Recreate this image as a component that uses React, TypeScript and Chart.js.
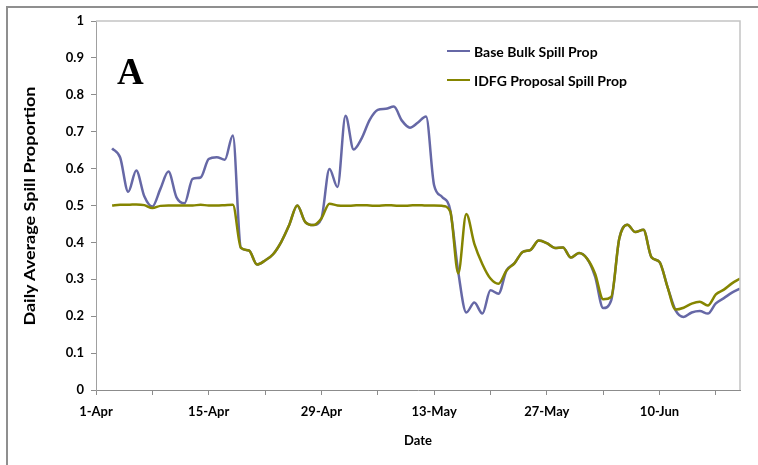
import React, { useEffect, useRef } from "react";
import { Chart, registerables } from "chart.js";

Chart.register(...registerables);

// Days counted from 1-Apr (day 0); data runs from day 2 (3-Apr) to day 80 (20-Jun)
const firstDay = 2;
const axisMaxDay = 80;

const tickDays = [0, 7, 14, 21, 28, 35, 42, 49, 56, 63, 70, 77];
const labelDays = [0, 14, 28, 42, 56, 70];
const tickLabels = ["1-Apr", "15-Apr", "29-Apr", "13-May", "27-May", "10-Jun"];

const seriesNames = ["Base Bulk Spill Prop", "IDFG Proposal Spill Prop"];
const xTitle = "Date";
const yTitle = "Daily Average Spill Proportion";

const baseBulk = [
  0.655, 0.63, 0.537, 0.595, 0.525, 0.497, 0.545, 0.592, 0.522, 0.506,
  0.572, 0.576, 0.626, 0.631, 0.624, 0.69, 0.385, 0.378, 0.34, 0.351,
  0.368, 0.401, 0.447, 0.5, 0.455, 0.447, 0.465, 0.599, 0.55, 0.743,
  0.652, 0.682, 0.732, 0.759, 0.762, 0.768, 0.73, 0.711, 0.725, 0.741,
  0.555, 0.523, 0.488, 0.32, 0.21, 0.237, 0.207, 0.27, 0.261, 0.324,
  0.344, 0.374, 0.38, 0.405, 0.398, 0.385, 0.386, 0.359, 0.371, 0.356,
  0.307, 0.222, 0.243, 0.41, 0.448, 0.428, 0.434, 0.36, 0.347, 0.279,
  0.216, 0.198, 0.21, 0.214, 0.207, 0.235, 0.249, 0.264, 0.275,
];

const idfgProposal = [
  0.5, 0.502, 0.502, 0.503, 0.501, 0.493, 0.499, 0.5, 0.5, 0.5,
  0.5, 0.502, 0.5, 0.5, 0.501, 0.502, 0.385, 0.378, 0.34, 0.351,
  0.368, 0.401, 0.447, 0.5, 0.455, 0.447, 0.465, 0.505, 0.5, 0.499,
  0.5, 0.501, 0.5, 0.499, 0.501, 0.5, 0.499, 0.5, 0.501, 0.5,
  0.5, 0.499, 0.484, 0.316, 0.477, 0.396, 0.341, 0.302, 0.288, 0.324,
  0.344, 0.374, 0.38, 0.405, 0.398, 0.385, 0.386, 0.359, 0.371, 0.356,
  0.315, 0.246, 0.252, 0.41, 0.448, 0.428, 0.434, 0.36, 0.347, 0.279,
  0.218, 0.223, 0.234, 0.239, 0.229, 0.259, 0.272, 0.289, 0.302,
];

const BLUE = "#6668a6";
const OLIVE = "#858500";
const FONT = "Lato, 'Open Sans', sans-serif";

const toPoints = (vals: number[]) => vals.map((v, i) => ({ x: firstDay + i, y: v }));

const plotFrame = {
  id: "plotFrame",
  afterDatasetsDraw(chart: any) {
    const { ctx, chartArea } = chart;
    ctx.save();
    ctx.strokeStyle = "#c4c4c4";
    ctx.lineWidth = 1.5;
    ctx.beginPath();
    ctx.moveTo(chartArea.left, chartArea.top);
    ctx.lineTo(chartArea.right, chartArea.top);
    ctx.lineTo(chartArea.right, chartArea.bottom);
    ctx.stroke();
    ctx.restore();
  },
};

export default function App() {
  const ref = useRef<HTMLCanvasElement | null>(null);

  useEffect(() => {
    if (!ref.current) return;
    const chart = new Chart(ref.current, {
      type: "line",
      data: {
        datasets: [
          {
            label: seriesNames[0],
            data: toPoints(baseBulk),
            borderColor: BLUE,
            borderWidth: 2.5,
            pointRadius: 0,
            cubicInterpolationMode: "monotone",
            order: 1,
          },
          {
            label: seriesNames[1],
            data: toPoints(idfgProposal),
            borderColor: OLIVE,
            borderWidth: 2.5,
            pointRadius: 0,
            cubicInterpolationMode: "monotone",
            order: 0,
          },
        ],
      },
      options: {
        animation: false,
        responsive: false,
        devicePixelRatio: 1,
        layout: { padding: { left: 0, right: 18, top: 21, bottom: 0 } },
        plugins: { legend: { display: false }, tooltip: { enabled: false } },
        scales: {
          x: {
            type: "linear",
            min: 0,
            max: axisMaxDay,
            afterBuildTicks: (s: any) => {
              s.ticks = tickDays.map((v) => ({ value: v }));
            },
            afterFit: (s: any) => {
              s.height = 75;
            },
            ticks: {
              autoSkip: false,
              maxRotation: 0,
              padding: 9,
              color: "#000",
              font: { family: FONT, size: 13, weight: "bold" },
              callback: (v: any) => {
                const k = labelDays.indexOf(Number(v));
                return k >= 0 ? tickLabels[k] : "";
              },
            },
            grid: {
              drawOnChartArea: false,
              drawTicks: true,
              tickLength: 5,
              color: "#8c8c8c",
            },
            border: { display: true, color: "#8c8c8c", width: 1 },
            title: {
              display: true,
              text: xTitle,
              color: "#000",
              font: { family: FONT, size: 13, weight: "bold" },
              padding: { top: 0, bottom: 16 },
            },
          },
          y: {
            min: 0,
            max: 1,
            ticks: {
              stepSize: 0.1,
              padding: 7,
              color: "#000",
              font: { family: FONT, size: 13, weight: "bold" },
              callback: (v: any) => String(Math.round(Number(v) * 10) / 10),
            },
            afterFit: (s: any) => {
              s.width = 96;
            },
            grid: {
              drawOnChartArea: false,
              drawTicks: true,
              tickLength: 5,
              color: "#8c8c8c",
            },
            border: { display: true, color: "#a0a0a0", width: 1 },
            title: { display: false },
          },
        },
      },
      plugins: [plotFrame],
    });
    return () => chart.destroy();
  }, []);

  const legendRow = (label: string, color: string, cy: number) => (
    <div key={label} style={{ position: "absolute", left: 447, top: cy - 10, height: 20, display: "flex", alignItems: "center" }}>
      <div style={{ width: 23, height: 2.5, background: color, marginRight: 4 }} />
      <span style={{ fontFamily: FONT, fontWeight: "bold", fontSize: 14, color: "#000", whiteSpace: "nowrap" }}>{label}</span>
    </div>
  );

  return (
    <div style={{ position: "fixed", left: 0, top: 0, width: 758, height: 465, background: "#fff", overflow: "hidden" }}>
      <div style={{ position: "absolute", left: 6, top: 6, width: 800, height: 500, border: "2px solid #8f8f8f", boxSizing: "border-box" }} />
      <canvas ref={ref} width={758} height={465} style={{ position: "absolute", left: 0, top: 0 }} />
      <div
        style={{
          position: "absolute",
          left: 29 - 150,
          top: 206 - 10,
          width: 300,
          height: 20,
          lineHeight: "20px",
          textAlign: "center",
          fontFamily: FONT,
          fontWeight: "bold",
          fontSize: 15,
          color: "#000",
          whiteSpace: "nowrap",
          transform: "rotate(-90deg) scaleX(1.2)",
        }}
      >
        {yTitle}
      </div>
      <div style={{ position: "absolute", left: 117, top: 52, fontFamily: "'Liberation Serif', 'Times New Roman', serif", fontWeight: "bold", fontSize: 37, lineHeight: "40px", color: "#000" }}>A</div>
      {legendRow(seriesNames[0], BLUE, 51)}
      {legendRow(seriesNames[1], OLIVE, 80)}
    </div>
  );
}
